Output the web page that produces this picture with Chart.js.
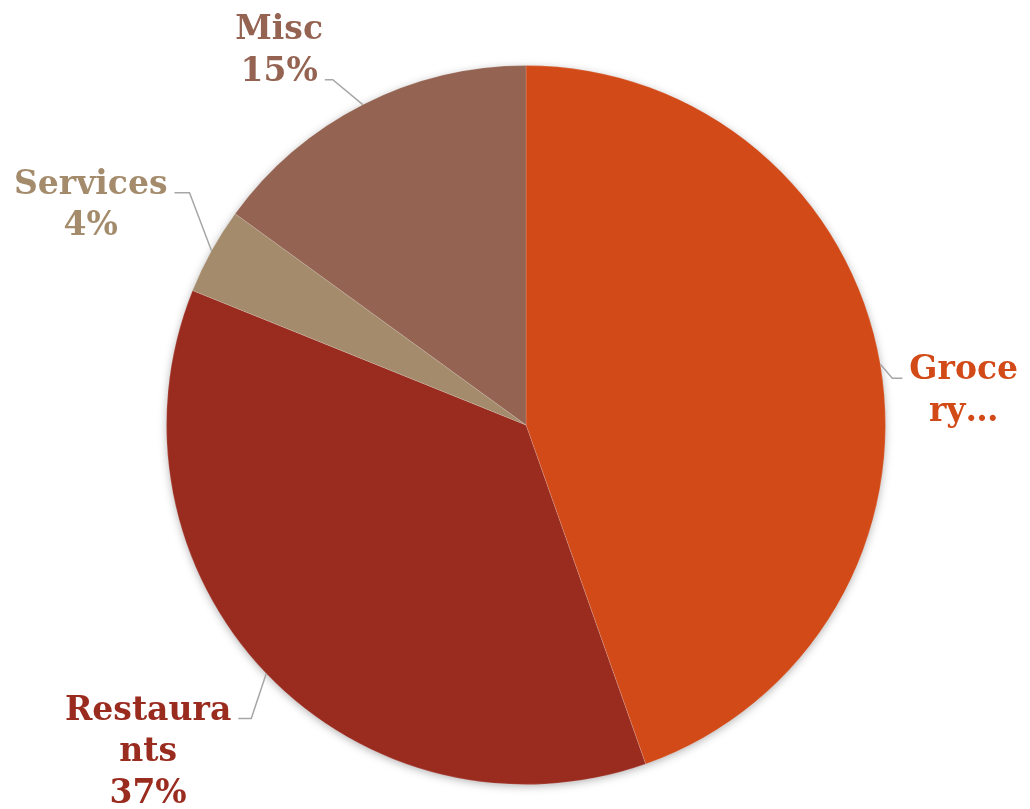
<!DOCTYPE html>
<html lang="en">
<head>
  <meta charset="UTF-8">
  <title>Spending Breakdown</title>
  <script src="https://cdn.jsdelivr.net/npm/chart.js"></script>
  <style>
    body {
      margin: 0;
      background: #ffffff;
    }
    #wrap {
      width: 1030px;
      height: 809px;
    }
  </style>
</head>
<body>

<div id="wrap"><canvas id="chartPie"></canvas></div>

<script>
  // data
  const categories = ["Grocery", "Restaurants", "Services", "Misc"];
  const values = [44.6, 36.5, 3.9, 15.0];
  const sliceColors = ["#D24A18", "#9A2B1F", "#A38B6B", "#946352"];
  // label text as it wraps in the picture (Grocery is cut off, no percent)
  const labelLines = [["Groce", "ry\u2026"], ["Restaura", "nts"], ["Services"], ["Misc"]];
  const showPercent = [false, true, true, true];

  // leader line layout: elbow offset from slice edge, horizontal run, which line it touches
  const leaders = [
    { dx: 12, dy: 14, run: 10, line: 0 },
    { dx: -15, dy: 45, run: -13, line: 0 },
    { dx: -22, dy: -58, run: -15, line: 0 },
    { dx: -30, dy: -25, run: -8, line: 1 }
  ];

  const FONT = "bold 33px 'DejaVu Serif'";
  const LINE_H = 41.5;

  const shadowPlugin = {
    id: "pieShadow",
    beforeDatasetsDraw(chart) {
      const arc = chart.getDatasetMeta(0).data[0];
      if (!arc) return;
      const ctx = chart.ctx;
      ctx.save();
      ctx.shadowColor = "rgba(0,0,0,0.35)";
      ctx.shadowBlur = 10;
      ctx.shadowOffsetY = 2;
      ctx.fillStyle = "#ffffff";
      ctx.beginPath();
      ctx.arc(arc.x, arc.y, arc.outerRadius - 1, 0, Math.PI * 2);
      ctx.fill();
      ctx.restore();
    }
  };

  const labelPlugin = {
    id: "outsideLabels",
    afterDatasetsDraw(chart) {
      const ctx = chart.ctx;
      const total = values.reduce((a, b) => a + b, 0);
      const arcs = chart.getDatasetMeta(0).data;
      ctx.save();
      ctx.font = FONT;
      arcs.forEach((arc, i) => {
        const mid = (arc.startAngle + arc.endAngle) / 2;
        const sx = arc.x + Math.cos(mid) * arc.outerRadius;
        const sy = arc.y + Math.sin(mid) * arc.outerRadius;
        const L = leaders[i];
        const ex = sx + L.dx, ey = sy + L.dy;
        const hx = ex + L.run;

        ctx.strokeStyle = "#A6A6A6";
        ctx.lineWidth = 1.5;
        ctx.beginPath();
        ctx.moveTo(sx, sy);
        ctx.lineTo(ex, ey);
        ctx.lineTo(hx, ey);
        ctx.stroke();

        const lines = labelLines[i].slice();
        if (showPercent[i]) lines.push(Math.round(values[i] / total * 100) + "%");

        const attachW = ctx.measureText(lines[L.line]).width;
        const gap = 7;
        let cx;
        if (L.run > 0) cx = hx + gap + attachW / 2;
        else cx = hx - gap - attachW / 2;

        ctx.fillStyle = sliceColors[i];
        ctx.textAlign = "center";
        ctx.textBaseline = "alphabetic";
        lines.forEach((t, k) => {
          ctx.fillText(t, cx, ey + 1 + (k - L.line) * LINE_H);
        });
      });
      ctx.restore();
    }
  };

  new Chart(document.getElementById("chartPie"), {
    type: "pie",
    data: {
      labels: categories,
      datasets: [{
        data: values,
        backgroundColor: sliceColors,
        borderColor: "rgba(255,255,255,0.15)",
        borderWidth: 1
      }]
    },
    options: {
      responsive: true,
      maintainAspectRatio: false,
      animation: false,
      layout: { padding: { top: 65, bottom: 24, left: 166, right: 144 } },
      plugins: {
        legend: { display: false },
        tooltip: { enabled: false }
      }
    },
    plugins: [shadowPlugin, labelPlugin]
  });
</script>

</body>
</html>
